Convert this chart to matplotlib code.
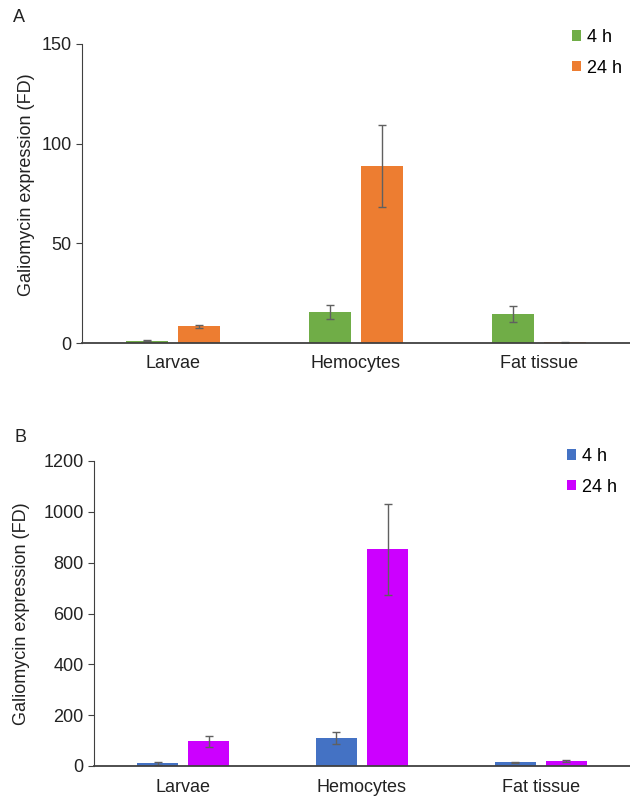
import matplotlib.pyplot as plt
import numpy as np

plt.rcParams['font.family'] = ['Liberation Sans', 'DejaVu Sans']

tissues = ['Larvae', 'Hemocytes', 'Fat tissue']
times = ['4 h', '24 h']

# panel A
a_4h = [1.2, 15.7, 14.5]
a_4h_err = [0.3, 3.6, 4.1]
a_24h = [8.3, 88.8, 0.3]
a_24h_err = [0.6, 20.5, 0.2]

# panel B
b_4h = [10.5, 110, 14]
b_4h_err = [5, 22, 3]
b_24h = [97, 852, 20]
b_24h_err = [21, 180, 3]

W, H = 630, 798
fig = plt.figure(figsize=(W / 100, H / 100), dpi=100)

def panel(rect, v1, e1, v2, e2, colors, ymax, step, letter, letter_xy, leg_xy):
	ax = fig.add_axes(rect)
	x = np.arange(len(tissues))
	w = 0.23
	off = 0.143
	ekw = dict(ecolor='#606060', elinewidth=1, capsize=3, capthick=1)
	ax.bar(x - off, v1, w, yerr=e1, color=colors[0], label=times[0], error_kw=ekw, zorder=2)
	ax.bar(x + off, v2, w, yerr=e2, color=colors[1], label=times[1], error_kw=ekw, zorder=2)
	ax.set_xlim(-0.5, 2.5)
	ax.set_ylim(0, ymax)
	ax.set_yticks(np.arange(0, ymax + 1, step))
	ax.set_xticks(x)
	ax.set_xticklabels(tissues)
	for s in ['top', 'right']:
		ax.spines[s].set_visible(False)
	ax.spines['left'].set_color('#404040')
	ax.spines['bottom'].set_color('#404040')
	ax.spines['bottom'].set_linewidth(1.3)
	ax.tick_params(axis='x', length=0, labelsize=13, pad=9, labelcolor='#222222')
	ax.tick_params(axis='y', length=4, labelsize=13, colors='#404040',
	               labelcolor='#222222', direction='out')
	ax.set_ylabel('Galiomycin expression (FD)', fontsize=13, color='#222222')
	fig.text(letter_xy[0] / W, 1 - letter_xy[1] / H, letter, fontsize=13,
	         ha='left', va='center', color='#222222')
	ax.legend(loc='upper left', bbox_to_anchor=(leg_xy[0] / W, 1 - leg_xy[1] / H),
	          bbox_transform=fig.transFigure, frameon=False, fontsize=13,
	          handlelength=0.5, handleheight=0.5, handletextpad=0.35,
	          labelspacing=0.75, borderpad=0, borderaxespad=0)
	return ax

axA = panel([82 / W, 1 - 343 / H, (W - 82) / W, (343 - 44) / H],
            a_4h, a_4h_err, a_24h, a_24h_err, ['#70AD47', '#ED7D31'],
            150, 50, 'A', (13, 18), (572, 29))
axA.yaxis.set_label_coords(-0.085, 0.53)

axB = panel([94 / W, 1 - 766 / H, (W - 94) / W, (766 - 461) / H],
            b_4h, b_4h_err, b_24h, b_24h_err, ['#4472C4', '#CC00FF'],
            1200, 200, 'B', (15, 438), (567, 448))
axB.yaxis.set_label_coords(-0.12, 0.5)

fig.savefig('out.png', dpi=100)
